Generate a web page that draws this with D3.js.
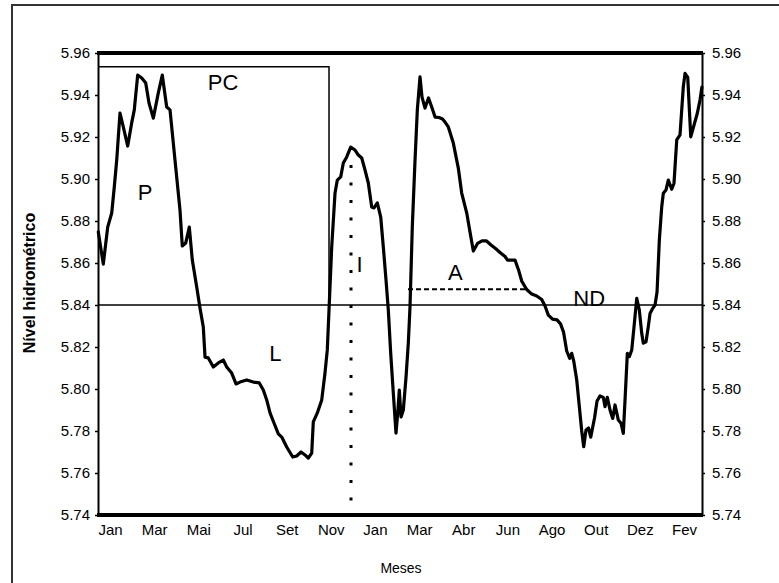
<!DOCTYPE html>
<html>
<head>
<meta charset="utf-8">
<script src="https://cdn.jsdelivr.net/npm/d3@7"></script>
<style>
  html, body { margin: 0; padding: 0; background: #fff; }
  svg { display: block; font-family: "Liberation Sans", Arial, sans-serif; }
</style>
</head>
<body>
<svg id="grafico" width="779" height="583"></svg>
<script>
// Rótulos do eixo dos meses (um por passo do eixo)
const meses = ["Jan", "Mar", "Mai", "Jul", "Set", "Nov", "Jan", "Mar", "Abr", "Jun", "Ago", "Out", "Dez", "Fev"];

// Marcas do eixo do nível
const niveisEixo = [5.74, 5.76, 5.78, 5.80, 5.82, 5.84, 5.86, 5.88, 5.90, 5.92, 5.94, 5.96];

// Série do nível hidrométrico: posição no eixo dos meses (em passos de rótulo) e nível
const tempo = [
  -0.265, -0.152, -0.052, 0.039, 0.097, 0.152, 0.226, 0.301, 0.401, 0.491,
  0.550, 0.627, 0.718, 0.809, 0.883, 0.981, 1.094, 1.184, 1.284, 1.359,
  1.472, 1.585, 1.637, 1.714, 1.796, 1.864, 1.964, 2.038, 2.113, 2.152,
  2.226, 2.340, 2.453, 2.566, 2.643, 2.756, 2.854, 2.944, 3.096, 3.245,
  3.381, 3.472, 3.549, 3.624, 3.714, 3.812, 3.889, 4.002, 4.138, 4.228,
  4.326, 4.416, 4.491, 4.568, 4.604, 4.695, 4.795, 4.869, 4.921, 4.960,
  5.021, 5.096, 5.148, 5.225, 5.284, 5.361, 5.451, 5.549, 5.624, 5.701,
  5.775, 5.850, 5.927, 5.979, 6.054, 6.131, 6.190, 6.251, 6.303, 6.357,
  6.416, 6.477, 6.516, 6.552, 6.591, 6.643, 6.704, 6.756, 6.794, 6.846,
  6.908, 6.960, 7.021, 7.066, 7.134, 7.213, 7.286, 7.361, 7.451, 7.530,
  7.587, 7.662, 7.775, 7.888, 7.965, 8.079, 8.153, 8.228, 8.323, 8.425,
  8.527, 8.629, 8.731, 8.833, 8.946, 9.003, 9.172, 9.252, 9.324, 9.437,
  9.551, 9.664, 9.777, 9.852, 9.927, 10.022, 10.124, 10.203, 10.271, 10.343,
  10.411, 10.457, 10.502, 10.570, 10.629, 10.683, 10.728, 10.780, 10.837, 10.887,
  10.973, 11.030, 11.098, 11.172, 11.211, 11.263, 11.324, 11.385, 11.437, 11.512,
  11.573, 11.625, 11.664, 11.716, 11.761, 11.816, 11.868, 11.929, 11.988, 12.042,
  12.078, 12.139, 12.191, 12.230, 12.291, 12.343, 12.389, 12.441, 12.495, 12.531,
  12.592, 12.644, 12.721, 12.773, 12.835, 12.909, 12.984, 13.023, 13.084, 13.152,
  13.227, 13.301, 13.362, 13.405
];
const nivel = [
  5.8748, 5.8595, 5.8771, 5.8838, 5.8962, 5.9090, 5.9314, 5.9248, 5.9157, 5.9267,
  5.9329, 5.9495, 5.9481, 5.9457, 5.9362, 5.9290, 5.9410, 5.9495, 5.9343, 5.9329,
  5.9090, 5.8852, 5.8681, 5.8695, 5.8771, 5.8614, 5.8486, 5.8386, 5.8295, 5.8152,
  5.8148, 5.8105, 5.8124, 5.8138, 5.8105, 5.8076, 5.8024, 5.8033, 5.8043, 5.8033,
  5.8029, 5.7995, 5.7948, 5.7886, 5.7838, 5.7786, 5.7771, 5.7724, 5.7676, 5.7681,
  5.7700, 5.7686, 5.7671, 5.7695, 5.7843, 5.7886, 5.7948, 5.8076, 5.8186, 5.8376,
  5.8676, 5.8933, 5.8995, 5.9010, 5.9076, 5.9105, 5.9152, 5.9138, 5.9114, 5.9100,
  5.9043, 5.8981, 5.8867, 5.8862, 5.8886, 5.8819, 5.8676, 5.8519, 5.8376, 5.8171,
  5.7981, 5.7790, 5.7886, 5.7995, 5.7867, 5.7900, 5.8057, 5.8219, 5.8390, 5.8771,
  5.9090, 5.9329, 5.9486, 5.9390, 5.9338, 5.9386, 5.9343, 5.9295, 5.9293, 5.9286,
  5.9271, 5.9248, 5.9171, 5.9052, 5.8933, 5.8838, 5.8748, 5.8657, 5.8693, 5.8705,
  5.8705, 5.8686, 5.8669, 5.8650, 5.8631, 5.8614, 5.8614, 5.8567, 5.8514, 5.8474,
  5.8452, 5.8443, 5.8426, 5.8395, 5.8352, 5.8333, 5.8329, 5.8310, 5.8271, 5.8181,
  5.8146, 5.8170, 5.8133, 5.8043, 5.7916, 5.7800, 5.7725, 5.7805, 5.7814, 5.7771,
  5.7862, 5.7943, 5.7967, 5.7960, 5.7916, 5.7960, 5.7900, 5.7860, 5.7924, 5.7852,
  5.7837, 5.7789, 5.7948, 5.8170, 5.8154, 5.8186, 5.8297, 5.8432, 5.8376, 5.8265,
  5.8218, 5.8225, 5.8297, 5.8360, 5.8384, 5.8400, 5.8462, 5.8710, 5.8868, 5.8932,
  5.8948, 5.8995, 5.8951, 5.8980, 5.9186, 5.9210, 5.9440, 5.9503, 5.9484, 5.9201,
  5.9257, 5.9313, 5.9376, 5.9438
];

// Nível de referência (linha horizontal contínua)
const nivelReferencia = 5.84;

// Caixa do período PC: topo e fim
const pcTopo = 5.9535;
const pcFim = 4.96;

// Linha pontilhada do período I
const iPosicao = 5.458;
const iTopo = 5.9067;

// Linha tracejada do período A
const aNivel = 5.8475;
const aInicio = 6.749;
const aFim = 9.399;

// Rótulos das fases
const fasesTexto = ["PC", "P", "L", "I", "A", "ND"];
const fasesTempo = [2.559, 0.793, 3.748, 5.651, 7.820, 10.853];
const fasesNivel = [5.9462, 5.8936, 5.8170, 5.8597, 5.8559, 5.8432];

const svg = d3.select("#grafico");

const area = { esquerda: 98, direita: 702, topo: 53, base: 515 };

const x = d3.scaleLinear()
  .domain([-0.2718, 13.407])
  .range([area.esquerda, area.direita]);

const y = d3.scaleLinear()
  .domain([5.74, 5.96])
  .range([area.base, area.topo]);

// Moldura externa
svg.append("rect")
  .attr("x", 12).attr("y", 5)
  .attr("width", 820).attr("height", 620)
  .attr("fill", "none")
  .attr("stroke", "#333")
  .attr("stroke-width", 2);

// Eixo esquerdo
const eixoEsq = svg.append("g")
  .attr("transform", `translate(${area.esquerda},0)`)
  .call(d3.axisLeft(y).tickValues(niveisEixo).tickFormat(d3.format(".2f")).tickSize(3).tickSizeOuter(0).tickPadding(5));

// Eixo direito
const eixoDir = svg.append("g")
  .attr("transform", `translate(${area.direita},0)`)
  .call(d3.axisRight(y).tickValues(niveisEixo).tickFormat(d3.format(".2f")).tickSize(3).tickSizeOuter(0).tickPadding(7));

[eixoEsq, eixoDir].forEach(g => {
  g.select(".domain").attr("stroke", "#000").attr("stroke-width", 2);
  g.selectAll(".tick line").attr("stroke", "#000").attr("stroke-width", 1.5);
  g.selectAll(".tick text")
    .attr("fill", "#000")
    .attr("font-size", 15)
    .attr("font-family", "Liberation Sans, Arial, sans-serif");
});

// Eixo dos meses (apenas rótulos)
const eixoX = svg.append("g")
  .attr("transform", `translate(0,${area.base})`)
  .call(d3.axisBottom(x).tickValues(d3.range(meses.length)).tickFormat(i => meses[i]).tickSize(0).tickPadding(9));
eixoX.select(".domain").remove();
eixoX.selectAll(".tick text")
  .attr("fill", "#000")
  .attr("font-size", 15)
  .attr("font-family", "Liberation Sans, Arial, sans-serif");

// Linhas grossas de topo e base
[5.96, 5.74].forEach(v => {
  svg.append("line")
    .attr("x1", x.range()[0] - 1).attr("x2", x.range()[1] + 1)
    .attr("y1", y(v)).attr("y2", y(v))
    .attr("stroke", "#000")
    .attr("stroke-width", 4);
});

// Linha de referência
svg.append("line")
  .attr("x1", x.range()[0]).attr("x2", x.range()[1])
  .attr("y1", y(nivelReferencia)).attr("y2", y(nivelReferencia))
  .attr("stroke", "#000")
  .attr("stroke-width", 1.5);

// Caixa PC
svg.append("path")
  .attr("d", d3.line()([
    [x.range()[0], y(pcTopo)],
    [x(pcFim), y(pcTopo)],
    [x(pcFim), y(nivelReferencia)]
  ]))
  .attr("fill", "none")
  .attr("stroke", "#000")
  .attr("stroke-width", 1.5);

// Linha pontilhada I
svg.append("line")
  .attr("x1", x(iPosicao)).attr("x2", x(iPosicao))
  .attr("y1", y(iTopo)).attr("y2", y(5.74))
  .attr("stroke", "#000")
  .attr("stroke-width", 3)
  .attr("stroke-dasharray", "3,14.5");

// Linha tracejada A
svg.append("line")
  .attr("x1", x(aInicio)).attr("x2", x(aFim))
  .attr("y1", y(aNivel)).attr("y2", y(aNivel))
  .attr("stroke", "#000")
  .attr("stroke-width", 2)
  .attr("stroke-dasharray", "5,3");

// Série do nível
const pontos = d3.zip(tempo, nivel);
svg.append("path")
  .datum(pontos)
  .attr("d", d3.line().x(d => x(d[0])).y(d => y(d[1])))
  .attr("fill", "none")
  .attr("stroke", "#000")
  .attr("stroke-width", 3.2)
  .attr("stroke-linejoin", "round")
  .attr("stroke-linecap", "round");

// Rótulos das fases
svg.append("g")
  .selectAll("text")
  .data(fasesTexto)
  .join("text")
  .attr("x", (d, i) => x(fasesTempo[i]))
  .attr("y", (d, i) => y(fasesNivel[i]))
  .attr("dy", "0.36em")
  .attr("text-anchor", "middle")
  .attr("font-size", 22)
  .attr("fill", "#000")
  .text(d => d);

// Títulos dos eixos
svg.append("text")
  .attr("transform", "translate(35,283) rotate(-90)")
  .attr("text-anchor", "middle")
  .attr("font-size", 16)
  .attr("font-weight", "bold")
  .attr("fill", "#000")
  .text("Nível hidrométrico");

svg.append("text")
  .attr("x", 401)
  .attr("y", 573)
  .attr("text-anchor", "middle")
  .attr("font-size", 14)
  .attr("fill", "#000")
  .text("Meses");
</script>
</body>
</html>
